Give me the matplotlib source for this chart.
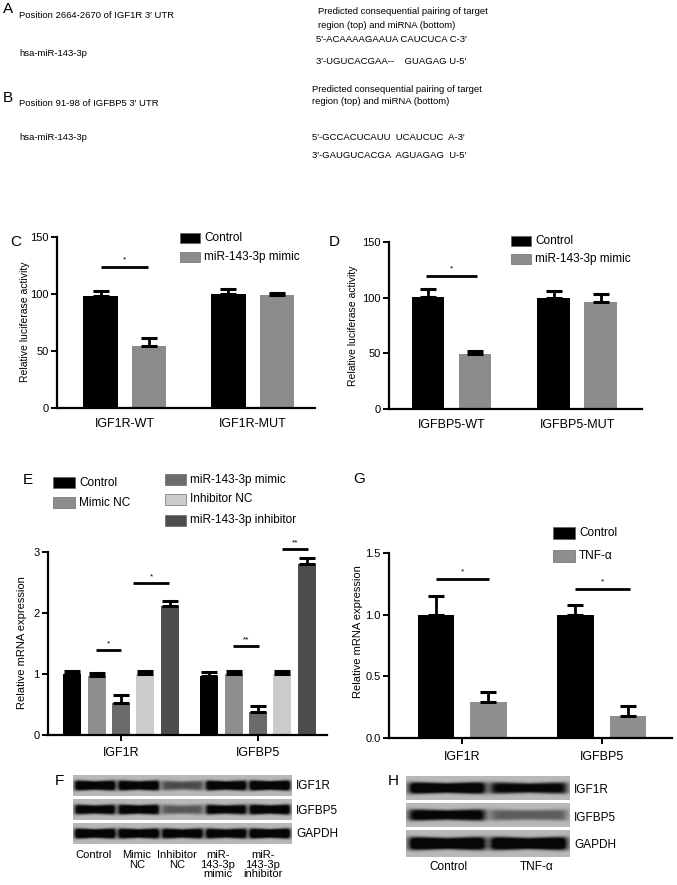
import numpy as np
import matplotlib
matplotlib.use("Agg")
import matplotlib.pyplot as plt
from matplotlib.patches import Rectangle

plt.rcParams['font.family'] = ['Liberation Sans', 'DejaVu Sans']

W, H = 677, 885

# ---- data ----
# panel C / D : luciferase
c_groups = ["IGF1R-WT", "IGF1R-MUT"]
c_ctrl = [98, 100]
c_ctrl_err = [5, 4]
c_mimic = [54, 99]
c_mimic_err = [7, 1.5]

d_groups = ["IGFBP5-WT", "IGFBP5-MUT"]
d_ctrl = [101, 100]
d_ctrl_err = [7, 6]
d_mimic = [49.5, 96.5]
d_mimic_err = [2.5, 7]

# panel E : mRNA, 5 conditions x 2 genes
e_groups = ["IGF1R", "IGFBP5"]
e_names = ["Control", "Mimic NC", "miR-143-3p mimic", "Inhibitor NC", "miR-143-3p inhibitor"]
e_vals = [[1.00, 0.96, 0.52, 1.00, 2.11],
          [0.96, 1.00, 0.38, 1.00, 2.81]]
e_errs = [[0.05, 0.05, 0.13, 0.05, 0.09],
          [0.07, 0.05, 0.10, 0.05, 0.09]]
e_colors = ["#000000", "#8e8e8e", "#6a6a6a", "#cbcbcb", "#4d4d4d"]

# panel G : TNF-alpha
g_groups = ["IGF1R", "IGFBP5"]
g_ctrl = [1.00, 1.00]
g_ctrl_err = [0.15, 0.08]
g_tnf = [0.29, 0.18]
g_tnf_err = [0.08, 0.08]

# blots (relative band strength per lane)
f_lanes = ["Control", "Mimic\nNC", "Inhibitor\nNC", "miR-\n143-3p\nmimic", "miR-\n143-3p\ninhibitor"]
f_proteins = ["IGF1R", "IGFBP5", "GAPDH"]
f_bands = [[0.95, 0.95, 0.45, 0.92, 1.00],
           [0.85, 0.92, 0.40, 0.85, 0.95],
           [1.00, 0.98, 0.95, 0.95, 1.00]]
h_lanes = ["Control", "TNF-α"]
h_bands = [[0.97, 0.80],
           [0.85, 0.38],
           [1.00, 1.00]]

fig = plt.figure(figsize=(W / 100, H / 100), dpi=100)


def px_axes(l, t, r, b):
    return fig.add_axes([l / W, 1 - b / H, (r - l) / W, (b - t) / H])


def ftext(x, y, s, **kw):
    kw.setdefault('fontsize', 8)
    kw.setdefault('va', 'center')
    fig.text(x / W, 1 - y / H, s, **kw)


def style_axes(ax):
    for s in ['top', 'right']:
        ax.spines[s].set_visible(False)
    for s in ['left', 'bottom']:
        ax.spines[s].set_linewidth(1.6)
    ax.tick_params(axis='y', direction='out', length=4, width=1.4, labelsize=8, pad=2)
    ax.tick_params(axis='x', direction='out', length=4, width=1.4, labelsize=9, pad=5)


def errs(ax, x, y, e):
    ax.errorbar(x, y, yerr=[np.zeros(len(e)), e], fmt='none', ecolor='black',
                elinewidth=2, capsize=6, capthick=2.2, clip_on=False, zorder=3)


def sig(ax, x0, x1, y, s, dy):
    ax.plot([x0, x1], [y, y], color='black', lw=2, clip_on=False, solid_capstyle='butt')
    ax.text((x0 + x1) / 2, y + dy, s, ha='center', va='bottom', fontsize=6)


def legend_box(x, y, w, h, color, label, fs=8.5):
    fig.patches.append(Rectangle((x / W, 1 - (y + h) / H), w / W, h / H, transform=fig.transFigure,
                                 facecolor=color, edgecolor='#555555', lw=0.4))
    ftext(x + w + 4, y + h / 2, label, fontsize=fs)


# ---- A / B text ----
ab = dict(fontsize=6.8)
ftext(3, 9, "A", fontsize=11)
ftext(19, 15, "Position 2664-2670 of IGF1R 3′ UTR", **ab)
ftext(19, 53, "hsa-miR-143-3p", **ab)
ftext(318, 11, "Predicted consequential pairing of target", **ab)
ftext(318, 25, "region (top) and miRNA (bottom)", **ab)
ftext(316, 40, "5′-ACAAAAGAAUA CAUCUCA C-3′", **ab)
ftext(316, 62, "3′-UGUCACGAA--    GUAGAG U-5′", **ab)

ftext(3, 98, "B", fontsize=11)
ftext(19, 104, "Position 91-98 of IGFBP5 3′ UTR", **ab)
ftext(19, 137, "hsa-miR-143-3p", **ab)
ftext(312, 89, "Predicted consequential pairing of target", **ab)
ftext(312, 101, "region (top) and miRNA (bottom)", **ab)
ftext(312, 137, "5′-GCCACUCAUU  UCAUCUC  A-3′", **ab)
ftext(312, 155, "3′-GAUGUCACGA  AGUAGAG  U-5′", **ab)

# ---- C ----
axc = px_axes(57, 237, 315, 408)
style_axes(axc)
xc = np.arange(len(c_groups))
axc.bar(xc - 0.19, c_ctrl, 0.27, color='black')
axc.bar(xc + 0.19, c_mimic, 0.27, color='#8c8c8c')
errs(axc, xc - 0.19, c_ctrl, c_ctrl_err)
errs(axc, xc + 0.19, c_mimic, c_mimic_err)
axc.set_xlim(-0.53, 1.486)
axc.set_ylim(0, 150)
axc.set_yticks([0, 50, 100, 150])
axc.set_xticks(xc)
axc.set_xticklabels(c_groups)
axc.tick_params(axis='x', length=0, pad=7)
sig(axc, -0.19, 0.18, 124, "*", 3)
ftext(10, 242, "C", fontsize=11)
ftext(25, 322, "Relative luciferase activity", fontsize=7.5, rotation=90, ha='center')
legend_box(180, 233, 20, 10, 'black', "Control")
legend_box(180, 252, 20, 10, '#8c8c8c', "miR-143-3p mimic")

# ---- D ----
axd = px_axes(389, 242, 642, 409)
style_axes(axd)
xd = np.arange(len(d_groups))
axd.bar(xd - 0.187, d_ctrl, 0.26, color='black')
axd.bar(xd + 0.187, d_mimic, 0.26, color='#8c8c8c')
errs(axd, xd - 0.187, d_ctrl, d_ctrl_err)
errs(axd, xd + 0.187, d_mimic, d_mimic_err)
axd.set_xlim(-0.497, 1.515)
axd.set_ylim(0, 150)
axd.set_yticks([0, 50, 100, 150])
axd.set_xticks(xd)
axd.set_xticklabels(d_groups)
axd.tick_params(axis='x', length=0, pad=7)
sig(axd, -0.2, 0.2, 119.7, "*", 3)
ftext(329, 242, "D", fontsize=11)
ftext(353, 326, "Relative luciferase activity", fontsize=7.5, rotation=90, ha='center')
legend_box(511, 236, 20, 10, 'black', "Control")
legend_box(511, 254, 20, 10, '#8c8c8c', "miR-143-3p mimic")

# ---- E ----
axe = px_axes(48, 552, 327, 735)
style_axes(axe)
xe = np.arange(len(e_groups))
offs = (np.arange(len(e_names)) - 2) * 0.178
vals = np.array(e_vals)
evs = np.array(e_errs)
for k in range(len(e_names)):
    axe.bar(xe + offs[k], vals[:, k], 0.131, color=e_colors[k])
    errs(axe, xe + offs[k], vals[:, k], evs[:, k])
axe.set_xlim(-0.533, 1.504)
axe.set_ylim(0, 3)
axe.set_yticks([0, 1, 2, 3])
axe.set_xticks(xe)
axe.set_xticklabels(e_groups)
sig(axe, -0.18, 0.0, 1.39, "*", 0.05)
sig(axe, 0.09, 0.35, 2.49, "*", 0.05)
sig(axe, 0.815, 1.01, 1.46, "**", 0.04)
sig(axe, 1.175, 1.365, 3.05, "**", 0.04)
ftext(23, 480, "E", fontsize=11)
ftext(22, 643, "Relative mRNA expression", fontsize=8, rotation=90, ha='center')
legend_box(53, 477, 22, 11, e_colors[0], "Control")
legend_box(53, 497, 22, 11, e_colors[1], "Mimic NC")
legend_box(165, 474, 21, 11, e_colors[2], "miR-143-3p mimic")
legend_box(165, 494, 21, 11, e_colors[3], "Inhibitor NC")
legend_box(165, 515, 21, 11, e_colors[4], "miR-143-3p inhibitor")

# ---- G ----
axg = px_axes(389, 553, 672, 738)
style_axes(axg)
xg = np.arange(len(g_groups))
axg.bar(xg - 0.188, g_ctrl, 0.262, color='black')
axg.bar(xg + 0.188, g_tnf, 0.262, color='#8e8e8e')
errs(axg, xg - 0.188, g_ctrl, g_ctrl_err)
errs(axg, xg + 0.188, g_tnf, g_tnf_err)
axg.set_xlim(-0.525, 1.504)
axg.set_ylim(0, 1.5)
axg.set_yticks([0, 0.5, 1.0, 1.5])
axg.set_yticklabels(["0.0", "0.5", "1.0", "1.5"])
axg.set_xticks(xg)
axg.set_xticklabels(g_groups)
sig(axg, -0.19, 0.19, 1.29, "*", 0.03)
sig(axg, 0.812, 1.2, 1.21, "*", 0.03)
ftext(353, 479, "G", fontsize=11)
ftext(358, 632, "Relative mRNA expression", fontsize=8, rotation=90, ha='center')
legend_box(553, 527, 22, 12, 'black', "Control")
legend_box(553, 550, 22, 12, '#8e8e8e', "TNF-α")


# ---- blots ----
def blot(l, r, t, b, bands):
    ax = px_axes(l, t, r, b)
    nx, ny = int(r - l) * 2, int(b - t) * 2
    xs = np.linspace(0, len(bands), nx)
    ys = np.linspace(-1, 1, ny)
    img = np.full((ny, nx), 0.72)
    for i, s in enumerate(bands):
        u = xs - i
        lane = 1 / (1 + np.exp(-(u - 0.04) * 35)) / (1 + np.exp((u - 0.96) * 35))
        # bands bulge a little toward the lane edges
        half = 0.42 + 0.10 * np.abs(u - 0.5) * 2 * (0.6 + 0.4 * s)
        prof = np.exp(-(ys[:, None] / half[None, :]) ** 4)
        img -= 0.95 * s * prof * lane[None, :]
    img = np.clip(img, 0.03, 1)
    ax.imshow(img, cmap='gray', vmin=0, vmax=1, aspect='auto', interpolation='bilinear')
    ax.set_axis_off()
    return ax


strip_f = [(775, 796), (799, 820), (823, 844)]
label_y_f = [786, 811, 834]
for p in range(len(f_proteins)):
    blot(73, 292, strip_f[p][0], strip_f[p][1], f_bands[p])
    ftext(296, label_y_f[p], f_proteins[p], fontsize=8.5)
ftext(55, 781, "F", fontsize=11)
lane_x_f = [93, 137, 177, 218, 263]
for x, s in zip(lane_x_f, f_lanes):
    fig.text(x / W, 1 - 850 / H, s, ha='center', va='top', fontsize=8, linespacing=0.95)

strip_h = [(776, 800), (803, 827), (830, 857)]
label_y_h = [790, 818, 845]
for p in range(len(f_proteins)):
    blot(406, 570, strip_h[p][0], strip_h[p][1], h_bands[p])
    ftext(574, label_y_h[p], f_proteins[p], fontsize=8.5)
ftext(388, 781, "H", fontsize=11)
for x, s in zip([448, 537], h_lanes):
    ftext(x, 867, s, ha='center', fontsize=8.5)

fig.savefig("out.png", dpi=100)
